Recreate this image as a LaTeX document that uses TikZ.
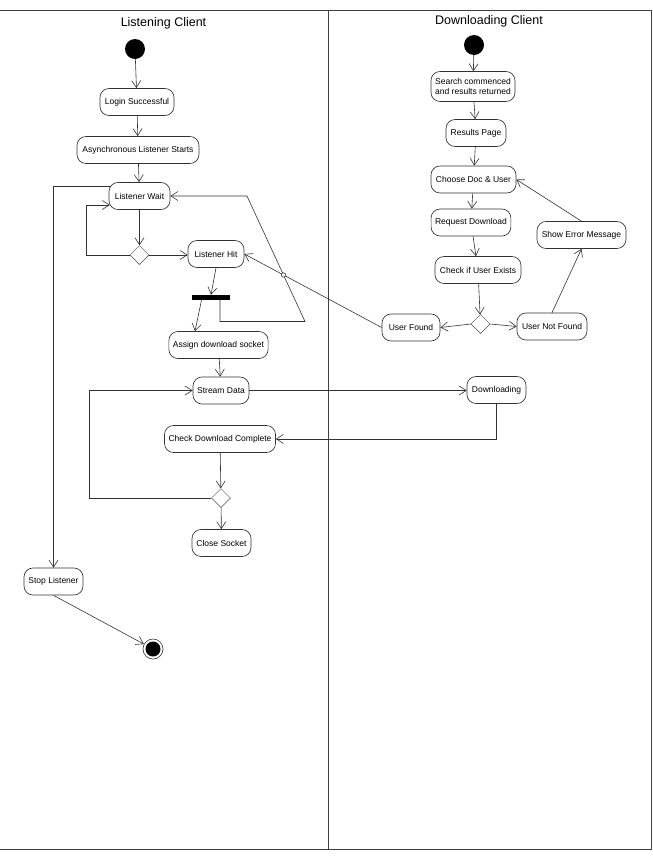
\documentclass[tikz,border=0pt]{standalone}
\usepackage{fontspec}
\setmainfont{Liberation Sans}
\usetikzlibrary{arrows.meta,shapes.geometric,intersections}
\begin{document}
\begin{tikzpicture}[x=1pt,y=-1pt,
  act/.style={draw=black!80, line width=0.65pt, rounded corners=9pt, minimum height=27pt, inner xsep=4pt, inner ysep=2pt, font=\fontsize{8.5}{9.8}\selectfont, align=center},
  dec/.style={draw=black!70, diamond, minimum width=19pt, minimum height=19pt, inner sep=0pt, line width=0.5pt},
  startnode/.style={circle, fill=black, minimum size=20pt, inner sep=0pt},
  flow/.style={draw=black!80, line width=0.6pt, -{Straight Barb[length=7pt,width=9pt]}},
  plain/.style={draw=black!80, line width=0.6pt},
  lane/.style={draw=black!75, line width=0.8pt},
  title/.style={font=\fontsize{12.5}{14}\selectfont}
]
\useasboundingbox (0,0) rectangle (653,857);

% swimlanes
\draw[lane] (0,10) -- (651,10) -- (651,849) -- (0,849);
\draw[lane] (328.5,10) -- (328.5,849);
\node[title] (t1) at (163.5,23) {Listening Client};
\node[title] (t2) at (489,21) {Downloading Client};

% Listening client
\node[startnode] (s1) at (135,49) {};
\node[act, minimum width=74pt] (login) at (137,102) {Login Successful};
\node[act, minimum width=122pt] (async) at (138,150) {Asynchronous Listener Starts};
\node[act, minimum width=61pt] (lw) at (139.5,196) {Listener Wait};
\node[dec] (d1) at (139.5,255) {};
\node[act, minimum width=56pt] (lh) at (216,254) {Listener Hit};
\node[fill=black, minimum width=38pt, minimum height=5pt, inner sep=0pt] (fork) at (211,297.5) {};
\node[act, minimum width=99pt] (assign) at (218.5,345) {Assign download socket};
\node[act, minimum width=56pt] (stream) at (221,390.5) {Stream Data};
\node[act, minimum width=111pt] (check) at (220,439) {Check Download Complete};
\node[dec] (d2) at (221,498) {};
\node[act, minimum width=59pt] (close) at (221.5,543) {Close Socket};
\node[act, minimum width=59pt] (stop) at (53.5,581.5) {Stop Listener};
\node[circle, draw=black!80, line width=0.6pt, minimum size=20pt, inner sep=0pt] (end) at (153,649) {};
\node[circle, fill=black, minimum size=15pt, inner sep=0pt] (endin) at (end) {};

% Downloading client
\node[startnode] (s2) at (474,45) {};
\node[act, minimum width=84pt, minimum height=30pt] (search) at (473,86.5) {Search commenced\\and results returned};
\node[act, minimum width=60pt] (results) at (476,133) {Results Page};
\node[act, minimum width=85pt] (choose) at (473.5,179.5) {Choose Doc \& User};
\node[act, minimum width=77pt] (request) at (471,222.5) {Request Download};
\node[act, minimum width=89pt] (showerr) at (581.5,235) {Show Error Message};
\node[act, minimum width=86pt] (cue) at (478,270) {Check if User Exists};
\node[dec] (d3) at (480.5,324) {};
\node[act, minimum width=58pt] (uf) at (411,327.5) {User Found};
\node[act, minimum width=70pt] (unf) at (552,326.5) {User Not Found};
\node[act, minimum width=59pt] (down) at (496.5,390) {Downloading};

% bend points
\coordinate (c1) at (86,205);
\coordinate (c3) at (305,321.5);
\coordinate (c4) at (247,196);
\coordinate (c5) at (89,390.5);

% left connectors
\draw[flow] (s1) -- (login);
\draw[flow] (login) -- (async);
\draw[flow] (async) -- (lw);
\draw[flow] (lw) -- (d1);
\draw[flow] (d1.west) -| (c1) -- ([xshift=1.2pt]c1 -| lw.west);
\draw[flow] (d1.east) -- (d1.east -| lh.west);
\draw[flow] ([xshift=1.9pt,yshift=10pt]lw.west) -| (stop.north);
\draw[flow] (lh.south) -- (fork.north);
\draw[flow] ([xshift=-9.5pt]fork.south) -- ([xshift=-23.5pt]assign.north);
\draw[flow, name path=B] ([xshift=9pt]fork.south) |- (c3) -- (c4) -- (c4 -| lw.east);
\draw[flow, name path=A] (uf.west) -- (lh.east);
\path[name intersections={of=A and B, by=X}];
\draw[plain, fill=white] (X) circle (2.2pt);
\draw[flow] (assign) -- (stream);
\draw[flow] (stream.east) -- (stream.east -| down.west);
\draw[flow] (down.south) |- (check.east);
\draw[flow] (check) -- (d2);
\draw[flow] (d2.west) -| (c5) -- (stream.west);
\draw[flow] (d2) -- (close);
\draw[flow] (stop.south) -- (end);

% right connectors
\draw[flow] (s2) -- (search);
\draw[flow] (search) -- (results);
\draw[flow] (results) -- (choose);
\draw[flow] (choose) -- (request);
\draw[flow] (request) -- (cue);
\draw[flow] (cue) -- (d3);
\draw[flow] (d3.west) -- (uf.east);
\draw[flow] (d3.east) -- (unf.west);
\draw[flow] (unf.north) -- (showerr.south);
\draw[flow] (showerr.north) -- (choose.east);
\end{tikzpicture}
\end{document}
